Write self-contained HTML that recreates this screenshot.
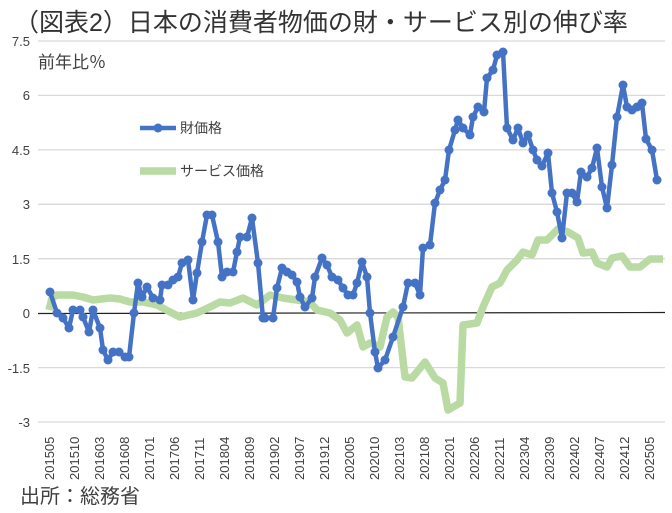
<!DOCTYPE html>
<html><head><meta charset="utf-8"><style>
body{margin:0;background:#fff;width:672px;height:508px;overflow:hidden}
svg text{font-family:"Liberation Sans","Noto Sans CJK JP",sans-serif;fill:#404040}
</style></head><body>
<svg width="672" height="508" viewBox="0 0 672 508">
<text x="14" y="31" font-size="25" style="fill:#333">（図表2）日本の消費者物価の財・サービス別の伸び率</text>
<g stroke="#d9d9d9" stroke-width="1.3">
<line x1="38" x2="665" y1="41" y2="41"/><line x1="38" x2="665" y1="95.4" y2="95.4"/>
<line x1="38" x2="665" y1="149.9" y2="149.9"/><line x1="38" x2="665" y1="204.3" y2="204.3"/>
<line x1="38" x2="665" y1="258.7" y2="258.7"/><line x1="38" x2="665" y1="367.6" y2="367.6"/>
<line x1="38" x2="665" y1="422" y2="422"/>
</g>
<line x1="38" x2="665" y1="313.5" y2="312.5" stroke="#222" stroke-width="1.2"/>
<g font-size="13" text-anchor="end">
<text x="30" y="46">7.5</text><text x="30" y="100">6</text><text x="30" y="155">4.5</text>
<text x="30" y="209">3</text><text x="30" y="264">1.5</text><text x="30" y="318">0</text>
<text x="30" y="373">-1.5</text><text x="30" y="427">-3</text>
</g>
<text x="38" y="68" font-size="17">前年比％</text>
<polyline fill="none" stroke="#b9dba3" stroke-width="7.5" stroke-linejoin="round" points="49,310 52,298 57,295 73,295 83,297 93,300 110,298 120,299 130,302 143,302 157,305 170,312 180,317 197,313 210,307 220,302 230,303 243,298 257,305 270,295 283,298 297,300 310,302 317,310 330,313 340,320 347,333 357,325 363,347 370,343 380,347 387,317 393,312 398,317 405,377 412,378 425,362 435,378 443,383 448,410 460,403 463,325 477,323 483,307 492,287 500,283 507,270 517,260 523,252 532,255 538,240 547,240 558,229 568,232 578,238 583,253 592,252 597,263 607,267 612,258 622,256 630,267 640,267 650,259 663,259"/>
<g id="b">
<polyline fill="none" stroke="#4472c4" stroke-width="4.5" stroke-linejoin="round" points="50,292 57,313 63,318 69,328 73,310 80,310 83,317 89,332 93,310 100,328 103,350 108,360 113,352 119,352 125,357 129,357 134,313 138,283 142,297 147,287 153,298 160,300 162,285 168,285 173,280 178,277 182,263 188,260 193,300 197,273 202,242 207,215 212,215 218,242 222,277 227,272 233,272 237,252 240,237 247,237 252,218 258,263 263,318 265,318 273,318 277,288 282,268 287,272 292,275 297,282 300,297 305,307 312,298 315,277 322,258 327,265 332,277 338,280 343,288 348,295 353,295 357,283 362,262 367,277 370,313 375,352 378,368 385,360 393,337 403,307 408,283 415,283 420,295 423,248 430,245 435,203 440,190 445,180 449,150 455,130 458,120 463,128 470,135 473,117 478,107 484,112 487,78 493,70 497,55 503,52 507,128 513,140 518,128 523,143 528,135 533,150 537,160 542,166 548,153 552,193 557,212 562,238 567,193 572,193 577,202 581,172 587,177 592,168 597,148 602,187 607,208 612,165 617,117 623,85 627,107 632,110 637,107 642,103 646,139 652,150 657,180"/>
</g>
<g fill="#4472c4" id="dots"></g>
<line x1="140" x2="176" y1="128" y2="128" stroke="#4472c4" stroke-width="4.5"/>
<circle cx="158" cy="128" r="4.5" fill="#4472c4"/>
<text x="180" y="133" font-size="14">財価格</text>
<line x1="140" x2="176" y1="171" y2="171" stroke="#b9dba3" stroke-width="7.5"/>
<text x="180" y="176" font-size="14">サービス価格</text>
<g font-size="13">
<text transform="translate(54,480) rotate(-90)">201505</text>
<text transform="translate(79,480) rotate(-90)">201510</text>
<text transform="translate(104,480) rotate(-90)">201603</text>
<text transform="translate(129,480) rotate(-90)">201608</text>
<text transform="translate(154,480) rotate(-90)">201701</text>
<text transform="translate(179,480) rotate(-90)">201706</text>
<text transform="translate(204,480) rotate(-90)">201711</text>
<text transform="translate(229,480) rotate(-90)">201804</text>
<text transform="translate(254,480) rotate(-90)">201809</text>
<text transform="translate(279,480) rotate(-90)">201902</text>
<text transform="translate(304,480) rotate(-90)">201907</text>
<text transform="translate(329,480) rotate(-90)">201912</text>
<text transform="translate(354,480) rotate(-90)">202005</text>
<text transform="translate(379,480) rotate(-90)">202010</text>
<text transform="translate(404,480) rotate(-90)">202103</text>
<text transform="translate(429,480) rotate(-90)">202108</text>
<text transform="translate(454,480) rotate(-90)">202201</text>
<text transform="translate(479,480) rotate(-90)">202206</text>
<text transform="translate(504,480) rotate(-90)">202211</text>
<text transform="translate(529,480) rotate(-90)">202304</text>
<text transform="translate(554,480) rotate(-90)">202309</text>
<text transform="translate(579,480) rotate(-90)">202402</text>
<text transform="translate(604,480) rotate(-90)">202407</text>
<text transform="translate(629,480) rotate(-90)">202412</text>
<text transform="translate(654,480) rotate(-90)">202505</text>
</g>
<text x="20" y="503" font-size="20">出所：総務省</text>
<script>
var p=document.querySelector('#b polyline').getAttribute('points').trim().split(/\s+/);
var g=document.getElementById('dots');
p.forEach(function(s){var a=s.split(',');var c=document.createElementNS('http://www.w3.org/2000/svg','circle');c.setAttribute('cx',a[0]);c.setAttribute('cy',a[1]);c.setAttribute('r','4.5');g.appendChild(c);});
</script>
</svg>
</body></html>
